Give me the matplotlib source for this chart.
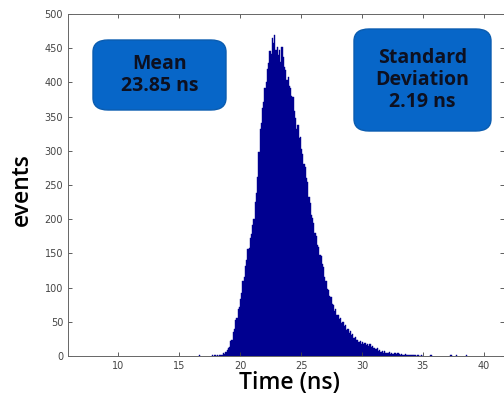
import numpy as np
import matplotlib
matplotlib.use("Agg")
import matplotlib.pyplot as plt
from matplotlib.patches import FancyBboxPatch

# histogram counts, 0.1 ns bins starting at 18.0 ns (one row per ns)
bin_start = 18.0
bin_width = 0.1
counts = [
    0, 1, 0, 1, 2, 1, 4, 3, 6, 9,                              # 18
    11, 13, 22, 24, 35, 40, 52, 56, 68, 72,                    # 19
    84, 92, 110, 115, 132, 140, 156, 158, 172, 178,            # 20
    192, 200, 225, 238, 262, 298, 332, 340, 362, 372,          # 21
    392, 400, 420, 428, 446, 442, 465, 458, 469, 448,          # 22
    452, 440, 447, 430, 452, 437, 422, 418, 403, 408,          # 23
    395, 392, 380, 378, 358, 348, 332, 338, 318, 320,          # 24
    302, 296, 280, 276, 260, 255, 232, 224, 206, 202,          # 25
    194, 180, 176, 163, 160, 148, 146, 134, 130, 116,          # 26
    110, 98, 97, 88, 86, 76, 74, 66, 68, 60,                   # 27
    60, 54, 55, 48, 50, 44, 45, 38, 40, 34,                    # 28
    36, 30, 32, 26, 28, 24, 23, 20, 22, 18,                    # 29
    21, 17, 19, 16, 18, 14, 17, 13, 14, 12,                    # 30
    12, 10, 11, 8, 9, 6, 8, 5, 7, 5,                           # 31
    5, 4, 6, 3, 5, 3, 4, 4, 3, 4,                              # 32
    3, 2, 3, 2, 2, 3, 1, 2, 2, 1,                              # 33
    2, 1, 1, 2, 0, 1, 1, 0, 1, 0,                              # 34
]
# a few isolated events far from the peak
tail_times = [16.6, 17.7, 17.9, 35.6, 37.2, 37.3, 37.7, 38.5]
tail_counts = [1, 1, 1, 1, 1, 1, 1, 1]

mean_text = "Mean\n23.85 ns"
std_text = "Standard\nDeviation\n2.19 ns"

edges = bin_start + bin_width * np.arange(len(counts))
left = np.concatenate([edges, tail_times])
heights = np.concatenate([counts, tail_counts])

fig = plt.figure(figsize=(5.04, 3.99), dpi=100)
ax = fig.add_axes([68 / 504, 1 - 356 / 399, 436 / 504, 342 / 399])

ax.bar(left, heights, width=bin_width, align="edge",
       color="#000090", edgecolor="#000090", linewidth=0.3)

ax.set_xlim(5.9, 41.64)
ax.set_ylim(0, 500)
ax.set_xticks([10, 15, 20, 25, 30, 35, 40])
ax.set_yticks(range(0, 501, 50))
ax.tick_params(direction="in", top=True, right=True, length=3,
               labelsize=7, colors="#444444", width=0.6)
for s in ax.spines.values():
    s.set_color("#666666")
    s.set_linewidth(0.7)

lab_font = {"family": "Open Sans", "size": 16.5, "weight": "semibold"}
fig.text(289 / 504, 1 - 383 / 399, "Time (ns)", ha="center", va="center",
         fontdict=lab_font)
fig.text(22 / 504, 1 - 190 / 399, "events", rotation=90, ha="center",
         va="center", fontdict=lab_font)

# rounded annotation boxes
def add_box(x0, y0, x1, y1, text):
    fx0, fx1 = x0 / 504, x1 / 504
    fy0, fy1 = 1 - y1 / 399, 1 - y0 / 399
    box = FancyBboxPatch((fx0, fy0), fx1 - fx0, fy1 - fy0,
                         boxstyle="round,pad=0,rounding_size=0.03",
                         transform=fig.transFigure, facecolor="#0766c8",
                         edgecolor="#0a5cb0", linewidth=1.0)
    fig.patches.append(box)
    fig.text((fx0 + fx1) / 2, (fy0 + fy1) / 2, text, ha="center",
             va="center", family="Open Sans", weight="bold", size=14,
             color="#0d1020", linespacing=1.15)

add_box(93, 40, 226, 110, mean_text)
add_box(354, 29, 491, 131, std_text)

fig.savefig("out.png", dpi=100)
